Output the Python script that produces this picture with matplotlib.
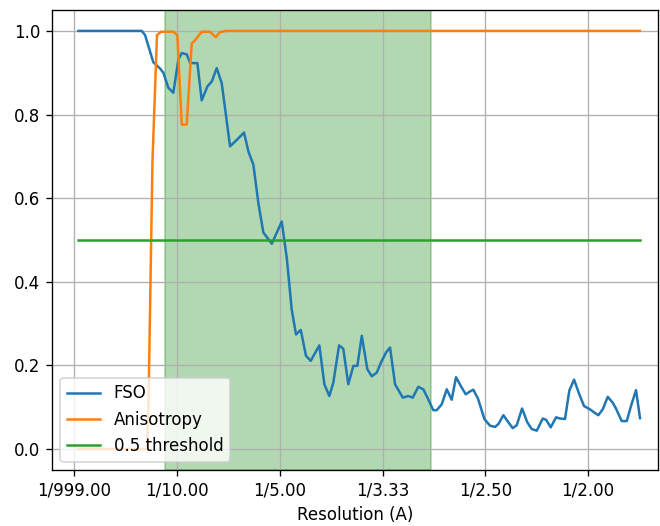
import matplotlib
matplotlib.use("Agg")
import matplotlib.pyplot as plt

# FSO curve (frequency in 1/A, value)
fso_freq = [0.004, 0.0656, 0.0689, 0.0769, 0.0835, 0.0867, 0.0915, 0.0964, 0.1013, 0.1046,
            0.1094, 0.1127, 0.1159, 0.1198, 0.1240, 0.1295, 0.1338, 0.1386, 0.1435, 0.1516,
            0.1584, 0.1652, 0.1694, 0.1743, 0.1791, 0.1840, 0.1922, 0.2019, 0.2068, 0.2116,
            0.2158, 0.2204, 0.2255, 0.2301, 0.2385, 0.2434, 0.2482, 0.2521, 0.2577, 0.2618,
            0.2667, 0.2716, 0.2755, 0.2798, 0.2852, 0.2895, 0.2944, 0.2985, 0.3034, 0.3073,
            0.3122, 0.3197, 0.3251, 0.3294, 0.3348, 0.3397, 0.3443, 0.3494, 0.3527, 0.3576,
            0.3625, 0.3673, 0.3715, 0.3764, 0.3810, 0.3852, 0.3884, 0.3930, 0.3991, 0.4046,
            0.4095, 0.4128, 0.4176, 0.4222, 0.4267, 0.4306, 0.4358, 0.4409, 0.4452, 0.4501,
            0.4559, 0.4592, 0.4637, 0.4689, 0.4728, 0.4776, 0.4818, 0.4864, 0.4915, 0.4961,
            0.5019, 0.5058, 0.5100, 0.5143, 0.5192, 0.5240, 0.5272, 0.5328, 0.5377, 0.5418,
            0.5467, 0.5506]
fso_val = [1.000, 1.000, 0.990, 0.925, 0.910, 0.900, 0.864, 0.852, 0.932, 0.947,
           0.944, 0.924, 0.923, 0.923, 0.834, 0.867, 0.879, 0.911, 0.875, 0.724,
           0.740, 0.757, 0.712, 0.680, 0.589, 0.518, 0.491, 0.544, 0.457, 0.334,
           0.274, 0.285, 0.223, 0.211, 0.248, 0.155, 0.127, 0.159, 0.248, 0.240,
           0.155, 0.199, 0.199, 0.271, 0.191, 0.174, 0.183, 0.207, 0.231, 0.243,
           0.155, 0.123, 0.127, 0.123, 0.149, 0.143, 0.120, 0.093, 0.093, 0.107,
           0.143, 0.118, 0.172, 0.150, 0.131, 0.138, 0.142, 0.120, 0.072, 0.056,
           0.053, 0.060, 0.081, 0.065, 0.050, 0.057, 0.097, 0.064, 0.048, 0.044,
           0.073, 0.070, 0.052, 0.076, 0.073, 0.072, 0.140, 0.166, 0.131, 0.103,
           0.095, 0.088, 0.081, 0.095, 0.125, 0.111, 0.097, 0.067, 0.067, 0.103,
           0.141, 0.074]

# Anisotropy curve
aniso_freq = [0.004, 0.0708, 0.0723, 0.0761, 0.0805, 0.0844, 0.0964, 0.1003, 0.1046, 0.1094,
              0.1143, 0.1165, 0.1240, 0.1321, 0.1377, 0.1418, 0.1477, 0.5506]
aniso_val = [0.000, 0.000, 0.120, 0.690, 0.990, 0.998, 0.998, 0.990, 0.776, 0.776,
             0.970, 0.975, 0.998, 0.998, 0.985, 0.997, 1.000, 1.000]

threshold = 0.5
span_lo, span_hi = 0.0878, 0.3467

tick_pos = [0.0, 0.1, 0.2, 0.3, 0.4, 0.5]
tick_labels = ["1/999.00", "1/10.00", "1/5.00", "1/3.33", "1/2.50", "1/2.00"]

fig = plt.figure(figsize=(5.5, 526/120), dpi=120)
ax = fig.add_axes([52/660, 1 - 470/526, (658-52)/660, (470-10)/526])

ax.plot(fso_freq, fso_val, label="FSO")
ax.plot(aniso_freq, aniso_val, label="Anisotropy")
ax.plot([fso_freq[0], fso_freq[-1]], [threshold, threshold], label="0.5 threshold")
ax.axvspan(span_lo, span_hi, color="green", alpha=0.3)

ax.set_xticks(tick_pos)
ax.set_xticklabels(tick_labels)
ax.set_xlim(-0.0217, 0.5681)
ax.set_ylim(-0.05, 1.05)
ax.set_xlabel("Resolution (A)")
ax.grid(True)
ax.legend(loc="lower left")

fig.savefig("out.png", dpi=120)
